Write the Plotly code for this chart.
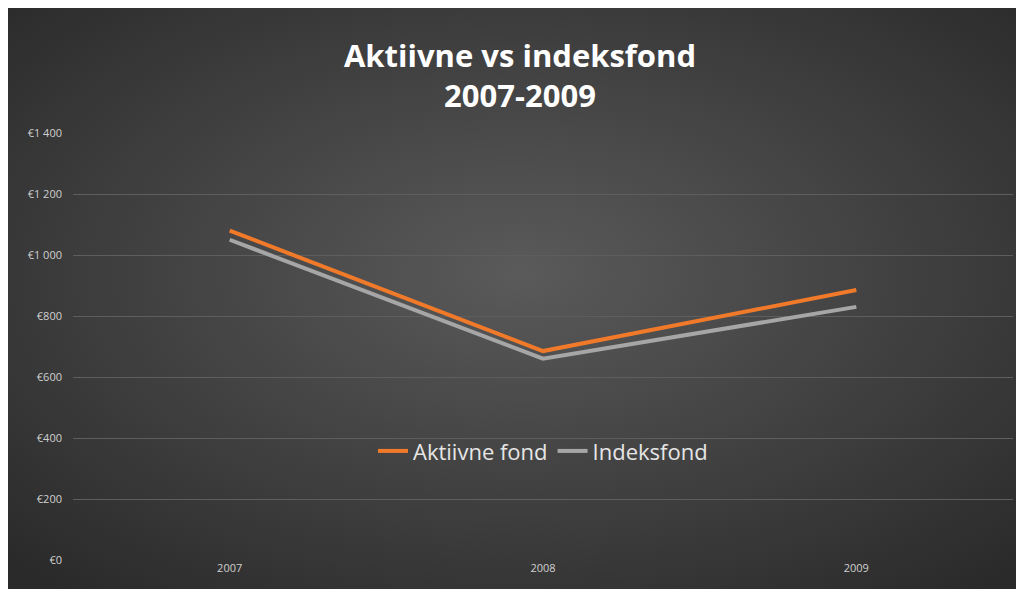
import base64
import plotly.graph_objects as go

years = ['2007', '2008', '2009']
aktiivne_fond = [1080, 685, 885]
indeksfond = [1050, 660, 830]
y_ticks = [0, 200, 400, 600, 800, 1000, 1200, 1400]
y_tick_labels = ['€0', '€200', '€400', '€600', '€800', '€1 000', '€1 200', '€1 400']

W, H = 1024, 589
ML, MR, MT, MB = 65, 19, 125, 37
pw, ph = W - ML - MR, H - MT - MB

# radial gradient background like the original slide
svg = ('<svg xmlns="http://www.w3.org/2000/svg" width="1024" height="589" preserveAspectRatio="none">'
       '<defs><radialGradient id="g" cx="50%" cy="45%" r="70%">'
       '<stop offset="0" stop-color="#5a5a5a"/><stop offset="1" stop-color="#2a2a2a"/>'
       '</radialGradient></defs><rect width="1024" height="589" fill="url(#g)"/></svg>')
bg = 'data:image/svg+xml;base64,' + base64.b64encode(svg.encode()).decode()

fig = go.Figure()
fig.add_trace(go.Scatter(x=years, y=aktiivne_fond, mode='lines', name='Aktiivne fond',
                         line=dict(color='#f07a2a', width=4)))
fig.add_trace(go.Scatter(x=years, y=indeksfond, mode='lines', name='Indeksfond',
                         line=dict(color='#a6a6a6', width=4)))

fig.update_layout(
    width=W, height=H,
    paper_bgcolor='#2e2e2e', plot_bgcolor='rgba(0,0,0,0)',
    images=[dict(source=bg, xref='paper', yref='paper', x=-ML / pw, y=1 + MT / ph,
                 sizex=W / pw, sizey=H / ph,
                 xanchor='left', yanchor='top', sizing='stretch', layer='below')],
    margin=dict(l=ML, r=MR, t=MT, b=MB),
    title=dict(text='<b>Aktiivne vs indeksfond<br>2007-2009</b>', x=0.5, xanchor='center',
               y=0.9, yanchor='middle',
               font=dict(family='Open Sans', size=31, color='white')),
    legend=dict(orientation='h', x=0.5, y=0.255, xanchor='center', yanchor='middle',
                bgcolor='rgba(0,0,0,0)',
                font=dict(family='Open Sans', size=22, color='#e6e6e6')),
    xaxis=dict(showgrid=False, showline=False, zeroline=False, range=[-0.5, 2.5],
               tickfont=dict(family='Open Sans', size=11, color='#d0d0d0')),
    yaxis=dict(range=[0, 1400], tickvals=y_ticks, ticktext=y_tick_labels,
               gridcolor='#5e5e5e', zeroline=False, ticklabelstandoff=10,
               tickfont=dict(family='Open Sans', size=11, color='#d0d0d0')),
)

fig.write_html('out.html')
